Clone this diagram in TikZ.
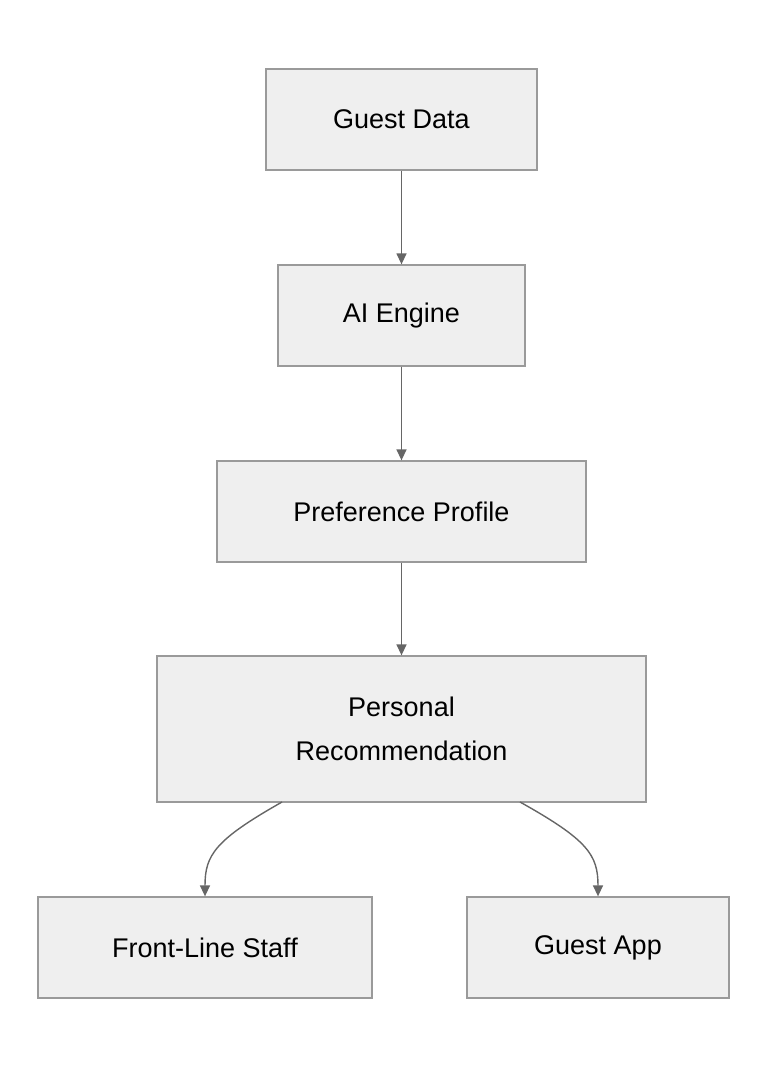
\documentclass[tikz,border=0pt]{standalone}
\usepackage{fontspec}
\setmainfont{Liberation Sans}
\usetikzlibrary{arrows.meta}
\definecolor{boxfill}{HTML}{EFEFEF}
\definecolor{boxline}{HTML}{9A9A9A}
\definecolor{arr}{HTML}{666666}
\begin{document}
\begin{tikzpicture}[x=1pt,y=-1pt,
  box/.style={draw=boxline,fill=boxfill,line width=1.3pt,inner sep=0pt,font=\fontsize{27}{44}\selectfont,align=center},
  conn/.style={draw=arr,line width=1.4pt,-{Triangle[length=11pt,width=10pt]}}]
\useasboundingbox (0,0) rectangle (768,1068);
\node[box,minimum width=271pt,minimum height=101pt] (gd) at (401.5,119.5) {Guest Data};
\node[box,minimum width=247pt,minimum height=101pt] (ai) at (401.5,315.5) {AI Engine};
\node[box,minimum width=369pt,minimum height=101pt] (pp) at (401.5,511.5) {Preference Profile};
\node[box,minimum width=489pt,minimum height=146pt] (pr) at (401.5,729) {Personal\\Recommendation};
\node[box,minimum width=334pt,minimum height=101pt] (fs) at (205,947.5) {Front-Line Staff};
\node[box,minimum width=262pt,minimum height=101pt] (ga) at (598,947.5) {Guest App};
\draw[conn] (gd) -- (ai);
\draw[conn] (ai) -- (pp);
\draw[conn] (pp) -- (pr);
\coordinate (l1) at (282,802);
\coordinate (r1) at (520,802);
\draw[conn] (l1) .. controls (215,840) and (205,855) .. (fs.north);
\draw[conn] (r1) .. controls (588,840) and (598,855) .. (ga.north);
\end{tikzpicture}
\end{document}
